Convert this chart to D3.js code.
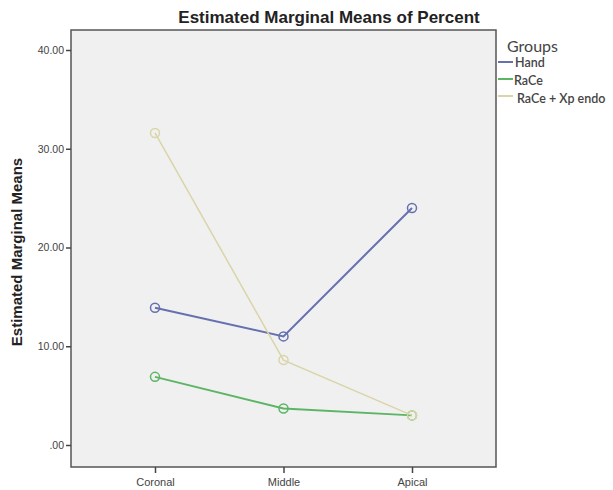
<!DOCTYPE html>
<html><head><meta charset="utf-8">
<script src="https://cdn.jsdelivr.net/npm/d3@7"></script>
<style>body{margin:0;background:#fff}svg{display:block}</style>
</head><body>
<svg id="c" width="613" height="490"></svg>
<script>
const categories = ["Coronal", "Middle", "Apical"];
const groups = ["Hand", "RaCe", "RaCe + Xp endo"];
const hand = [13.9, 11.0, 24.0];
const race = [6.9, 3.7, 3.0];
const raceXp = [31.6, 8.6, 3.0];
const yTicks = [0, 10, 20, 30, 40];
const colors = ["#6570b0", "#5cb565", "#d9d5a8"];

const series = [hand, race, raceXp];
const svg = d3.select("#c");
const L = 71, R = 496, T = 30, B = 467;
const font = "'Liberation Sans', Arial, sans-serif";
const lfont = "Lato, 'Open Sans', sans-serif";

const x = d3.scalePoint().domain(categories).range([155, 412]);
const y = d3.scaleLinear().domain([0, 40]).range([445, 50]);

svg.append("rect").attr("x", L).attr("y", T).attr("width", R - L).attr("height", B - T)
  .attr("fill", "#f0f0f0").attr("stroke", "#555").attr("stroke-width", 1.5);

const ya = svg.append("g").attr("transform", `translate(${L},0)`)
  .call(d3.axisLeft(y).tickValues(yTicks).tickSize(5).tickPadding(2).tickFormat(d => d === 0 ? ".00" : d3.format(".2f")(d)));
ya.select(".domain").remove();
ya.selectAll("line").attr("stroke", "#444").attr("stroke-width", 1.5);
ya.selectAll("text").attr("font-family", font).attr("font-size", 10.5).attr("fill", "#444");

const xa = svg.append("g").attr("transform", `translate(0,${B})`)
  .call(d3.axisBottom(x).tickSize(6).tickPadding(5));
xa.select(".domain").remove();
xa.selectAll("line").attr("stroke", "#444").attr("stroke-width", 1.5);
xa.selectAll("text").attr("font-family", font).attr("font-size", 11).attr("fill", "#444");

const line = d3.line().x((d, i) => x(categories[i])).y(d => y(d));
series.forEach((s, k) => {
  svg.append("path").attr("d", line(s)).attr("fill", "none")
    .attr("stroke", colors[k]).attr("stroke-width", k === 2 ? 1.5 : 2);
  svg.selectAll(null).data(s).enter().append("circle")
    .attr("cx", (d, i) => x(categories[i])).attr("cy", d => y(d)).attr("r", 4.5)
    .attr("fill", "none").attr("stroke", colors[k]).attr("stroke-width", 1.5);
});

svg.append("text").attr("x", 329).attr("y", 23).attr("text-anchor", "middle")
  .attr("font-family", font).attr("font-weight", "bold").attr("font-size", 17).attr("fill", "#222")
  .text("Estimated Marginal Means of Percent");
svg.append("text").attr("transform", "translate(22,252) rotate(-90)").attr("text-anchor", "middle")
  .attr("font-family", font).attr("font-weight", "bold").attr("font-size", 15).attr("fill", "#222")
  .text("Estimated Marginal Means");

svg.append("text").attr("x", 507).attr("y", 52).attr("font-family", lfont).attr("font-size", 16)
  .attr("fill", "#444").text("Groups");
const legY = [62, 79, 96];
const legTx = [515, 514, 517];
groups.forEach((g, k) => {
  const yy = legY[k];
  svg.append("line").attr("x1", 498).attr("x2", 513).attr("y1", yy).attr("y2", yy)
    .attr("stroke", colors[k]).attr("stroke-width", 2);
  svg.append("text").attr("x", legTx[k]).attr("y", yy + 5 + k).attr("font-family", lfont).attr("font-size", 12.5)
    .attr("font-weight", 600).attr("fill", "#444").text(g);
});
</script>
</body></html>
